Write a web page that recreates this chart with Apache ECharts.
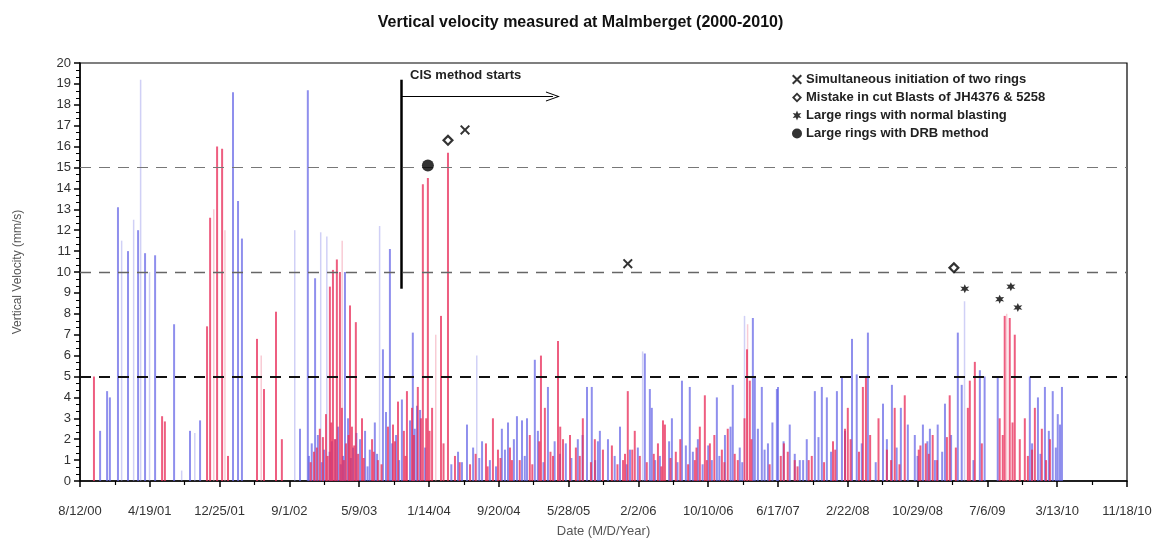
<!DOCTYPE html>
<html><head><meta charset="utf-8">
<script src="https://cdn.jsdelivr.net/npm/echarts@6/dist/echarts.min.js"></script>
<style>html,body{margin:0;padding:0;background:#fff}#c{width:1161px;height:543px}</style>
</head><body><div id="c"></div>
<script>
// x values are days since 8/12/00
const tickLabels = ['8/12/00','4/19/01','12/25/01','9/1/02','5/9/03','1/14/04','9/20/04','5/28/05','2/2/06','10/10/06','6/17/07','2/22/08','10/29/08','7/6/09','3/13/10','11/18/10'];
const blueDays = [72,97,107,136,172,208,233,269,337,394,430,548,566,580,
 788,816,842,949,1021,1085,1110,1192,1207,830,852,874,902,924,942,960,978,1003,1038,1056,1096,1132,1153,1182,1218,
 1354,1386,1440,1511,1533,1565,1583,1601,1629,1676,1816,1833,1855,1368,1408,1468,1554,1640,1719,1740,1783,1862,
 1891,1934,2023,2041,2048,2120,2156,2184,2281,2338,2410,2417,2442,2496,1970,2077,2170,2213,2263,2310,2363,2428,2464,
 2500,2542,2578,2603,2632,2657,2675,2711,2729,2765,2782,2822,2876,2908,2940,2965,2990,3019,3044,3072,3098,3144,
 3158,3223,3240,3287,3402,3431,3456,3484,3502,3517,
 820,866,894,915,934,970,990,1030,1064,1118,1143,1199,1236,1330,1430,1490,1522,1593,1660,1700,1760,1800,1845,
 1915,1958,1998,2060,2110,2140,2195,2230,2250,2290,2330,2372,2452,2480,2520,2560,2590,2645,2690,2740,2800,2850,2890,2925,3000,3035,3062,3088,3120,3200,3410,3440,3470,3495,3510];
const blueVals = [2.4,4.3,4.0,13.1,11.0,12.0,10.9,10.8,7.5,2.4,2.9,18.6,13.4,11.6,
 2.5,18.7,9.7,10.0,2.4,6.3,11.1,7.1,3.6,1.8,2.2,1.5,1.9,2.6,1.2,3.0,1.6,2.0,1.5,2.8,3.3,2.2,3.9,2.9,3.4,
 1.4,2.7,1.9,2.5,2.8,3.1,2.9,3.0,5.8,4.5,4.5,4.5,1.9,0.9,1.6,1.0,2.0,2.4,1.3,1.8,2.0,2.4,
 2.0,2.6,6.1,4.4,3.5,3.0,4.8,4.5,4.0,4.6,7.8,5.0,4.5,4.4,1.5,1.2,1.7,2.0,1.0,2.2,1.6,2.5,1.8,
 4.5,2.7,1.0,2.0,4.3,4.5,4.0,4.3,5.0,6.8,5.1,7.1,3.7,4.6,3.5,2.7,2.2,2.7,2.5,2.7,3.7,7.1,
 4.6,5.3,5.0,5.0,5.0,4.0,4.5,4.3,3.2,4.5,
 1.2,0.9,1.4,2.0,0.8,1.1,2.3,0.7,1.3,1.8,1.0,2.5,1.6,0.8,1.1,0.7,1.5,1.2,0.9,1.9,1.1,2.2,1.0,
 1.2,0.8,1.6,1.0,1.9,0.9,1.4,0.8,1.7,1.2,2.6,0.9,1.5,2.8,1.9,1.3,1.0,2.1,1.4,2.4,1.8,0.9,2.0,1.6,1.2,1.9,1.0,1.4,2.2,1.0,1.8,1.3,2.4,1.6,2.7,1.1];
const redDays = [50,294,304,455,466,491,509,530,
 634,659,702,723,895,906,920,931,967,988,1121,1171,1228,1246,838,859,881,913,938,953,974,996,1010,1046,1067,1103,1139,1160,1189,1210,1221,
 1261,1293,1318,1479,1651,1712,1755,1343,1397,1454,1497,1547,1611,1665,1694,1730,1776,1801,1844,1873,
 1962,2088,2238,2389,1905,1952,1987,2005,2070,2095,2134,2202,2220,2256,2299,2320,2356,2399,
 2521,2560,2621,2697,2740,2750,2804,2815,2890,2918,2954,3004,3029,3054,3115,
 3187,3205,3180,3294,3312,3330,3348,3366,3384,3420,3445,3474,
 826,848,870,887,900,945,962,982,1016,1052,1080,1128,1166,1196,1240,1252,1302,1360,1417,1460,1506,1540,1575,1620,1645,1685,1720,1790,1830,
 1925,1945,1978,2030,2055,2082,2115,2150,2178,2208,2245,2272,2308,2345,2380,2405,2470,2510,2535,2570,2610,2665,2705,2760,2790,2830,2860,2905,2935,3010,3040,3070,3105,3137,3230,3305,3340,3395,3410,3460];
const redVals = [5.0,3.1,2.85,7.4,12.6,16.0,15.9,1.2,
 6.8,4.4,8.1,2.0,9.3,10.1,10.6,10.0,8.4,7.6,2.7,4.3,14.2,14.5,1.4,2.5,3.2,2.0,3.5,1.8,2.6,1.3,3.0,2.0,1.0,2.6,3.8,2.4,3.5,4.5,3.0,
 3.5,7.9,15.7,3.0,6.0,6.7,2.2,1.2,0.8,1.8,1.5,1.0,2.2,3.5,1.2,2.0,1.6,3.0,2.0,1.5,
 4.3,2.9,4.1,6.3,1.7,1.3,2.4,1.2,1.8,2.7,1.4,1.0,2.6,1.8,1.5,2.5,1.0,4.8,
 1.8,1.0,1.2,1.9,2.5,3.5,4.5,5.0,1.5,3.5,4.1,1.5,1.8,2.2,4.1,
 4.8,5.7,3.5,3.0,7.9,7.8,7.0,2.0,3.0,3.5,2.5,2.0,
 0.9,1.6,2.1,1.2,2.8,1.0,2.2,1.7,1.1,1.4,0.8,1.9,1.2,2.2,3.0,2.4,1.8,0.9,1.3,0.7,1.1,1.6,1.0,0.8,1.9,1.4,2.6,1.2,0.9,
 0.8,1.0,1.5,0.9,1.3,0.7,1.1,2.0,0.8,1.6,1.0,2.2,0.9,1.3,3.0,2.0,0.8,1.2,1.4,0.7,1.0,0.9,1.5,2.0,1.4,2.2,3.0,1.0,0.8,1.7,1.3,1.0,2.1,1.6,1.8,2.2,2.8,1.2,1.5,1.0];
const faintBlueDays = [218,193,150,250,365,412,770,863,885,1074,1422,2016,2381,3169];
const faintBlueVals = [19.2,12.5,11.5,10.0,0.5,2.3,12.0,11.9,11.7,12.2,6.0,6.2,7.9,8.6];
const faintRedDays = [480,520,650,940,1275,2392,3320];
const faintRedVals = [13.0,12.0,6.0,11.5,7.0,7.5,8.0];
const crossPts = [[1379,16.8],[1962,10.4]];
const diamondPts = [[1318,16.3],[3130,10.2]];
const starPts = [[3169,9.2],[3294,8.7],[3334,9.3],[3359,8.3]];
const circlePts = [[1246,15.1]];
const refLevels = [5,10,15];
const cisDay = 1150, cisArrowEnd = 1694;

const zip = (a,b)=>a.map((d,i)=>[d,b[i]]);
const FONT = 'Liberation Sans, Arial, sans-serif';
const crossPath = 'path://M0,1.4 L1.4,0 L5,3.6 L8.6,0 L10,1.4 L6.4,5 L10,8.6 L8.6,10 L5,6.4 L1.4,10 L0,8.6 L3.6,5 Z';
const diamondPath = 'path://M5,0 L10,5 L5,10 L0,5 Z M5,2.6 L2.6,5 L5,7.4 L7.4,5 Z';
const starPath = 'path://M5,0 L6.2,3 L9.3,2.5 L7.3,5 L9.3,7.5 L6.2,7 L5,10 L3.8,7 L0.7,7.5 L2.7,5 L0.7,2.5 L3.8,3 Z';
const chevron = 'path://M0,10 L5,0 L10,10 L9,10 L5,2 L1,10 Z';

const chart = echarts.init(document.getElementById('c'), null, {renderer:'canvas'});
const barBase = {type:'bar', barGap:'-100%', silent:true, animation:false};
chart.setOption({
  animation:false,
  title:{text:'Vertical velocity measured at Malmberget (2000-2010)', left:'center', top:10,
    textStyle:{fontFamily:FONT, fontSize:16, fontWeight:'bold', color:'#111'}},
  grid:{left:80, right:34, top:63, bottom:60, show:true, borderColor:'#000', borderWidth:1.2, backgroundColor:'transparent'},
  legend:{orient:'vertical', left:787, top:68, itemGap:5, itemWidth:10, itemHeight:10,
    textStyle:{fontFamily:FONT, fontSize:13, fontWeight:'bold', color:'#222', padding:[0,0,0,-1]},
    data:[{name:'Simultaneous initiation of two rings', icon:crossPath},
          {name:'Mistake in cut Blasts of JH4376 & 5258', icon:diamondPath},
          {name:'Large rings with normal blasting', icon:starPath},
          {name:'Large rings with DRB method', icon:'circle'}]},
  xAxis:{type:'value', min:0, max:3750, interval:250,
    name:'Date (M/D/Year)', nameLocation:'middle', nameGap:44,
    nameTextStyle:{fontFamily:FONT, fontSize:13, color:'#555'},
    axisLine:{lineStyle:{color:'#000', width:1.5}},
    axisTick:{length:6, lineStyle:{color:'#000', width:1.5}},
    minorTick:{show:true, splitNumber:2, length:4, lineStyle:{color:'#000', width:1.2}},
    splitLine:{show:false},
    axisLabel:{fontFamily:FONT, fontSize:13, color:'#333', margin:24,
      formatter:v=>tickLabels[Math.round(v/250)]}},
  yAxis:{type:'value', min:0, max:20, interval:1,
    name:'Vertical Velocity (mm/s)', nameLocation:'middle', nameGap:56, nameRotate:90,
    nameTextStyle:{fontFamily:FONT, fontSize:12, color:'#555'},
    axisLine:{show:true, lineStyle:{color:'#000', width:1.5}},
    axisTick:{show:true, length:6, lineStyle:{color:'#000', width:1.5}},
    minorTick:{show:true, splitNumber:3, length:4, lineStyle:{color:'#000', width:1}},
    splitLine:{show:false},
    axisLabel:{fontFamily:FONT, fontSize:13, color:'#333', margin:9}},
  series:[
    Object.assign({name:'fb', data:zip(faintBlueDays,faintBlueVals), barWidth:1.5,
      itemStyle:{color:'rgba(150,150,235,0.45)'}}, barBase),
    Object.assign({name:'fr', data:zip(faintRedDays,faintRedVals), barWidth:1.5,
      itemStyle:{color:'rgba(240,140,160,0.45)'}}, barBase),
    Object.assign({name:'blue', data:zip(blueDays,blueVals), barWidth:2,
      itemStyle:{color:'rgba(95,95,230,0.7)'}}, barBase),
    Object.assign({name:'red', data:zip(redDays,redVals), barWidth:2,
      itemStyle:{color:'rgba(232,40,85,0.75)'},
      markLine:{silent:true, symbol:['none','none'], animation:false,
        data:[
          {yAxis:refLevels[0], lineStyle:{color:'#111', width:1.8, type:[11,8]}},
          {yAxis:refLevels[1], lineStyle:{color:'#666', width:1.3, type:[11,8]}},
          {yAxis:refLevels[2], lineStyle:{color:'#777', width:1.2, type:[11,8]}},
          [{coord:[cisDay,9.2], lineStyle:{color:'#000', width:2.5, type:'solid'}},{coord:[cisDay,19.2]}],
          [{coord:[cisDay,18.4], symbol:'none', lineStyle:{color:'#000', width:1, type:'solid'}},
           {coord:[cisArrowEnd,18.4], symbol:chevron, symbolSize:[10,14]}]
        ], label:{show:false}}}, barBase),
    {name:'Simultaneous initiation of two rings', type:'scatter', data:crossPts, symbol:crossPath, symbolSize:10,
      itemStyle:{color:'#000'}, z:5},
    {name:'Mistake in cut Blasts of JH4376 & 5258', type:'scatter', data:diamondPts, symbol:diamondPath, symbolSize:12,
      itemStyle:{color:'#000'}, z:5},
    {name:'Large rings with normal blasting', type:'scatter', data:starPts, symbol:starPath, symbolSize:9,
      itemStyle:{color:'#000'}, z:5},
    {name:'Large rings with DRB method', type:'scatter', data:circlePts, symbol:'circle', symbolSize:12,
      itemStyle:{color:'#000'}, z:5}
  ]
});
const p = chart.convertToPixel({gridIndex:0}, [cisDay, 19.3]);
chart.setOption({graphic:[{type:'text', left:p[0]+9, top:p[1]-9,
  style:{text:'CIS method starts', font:'bold 13px '+FONT, fill:'#222'}}]});
</script></body></html>
